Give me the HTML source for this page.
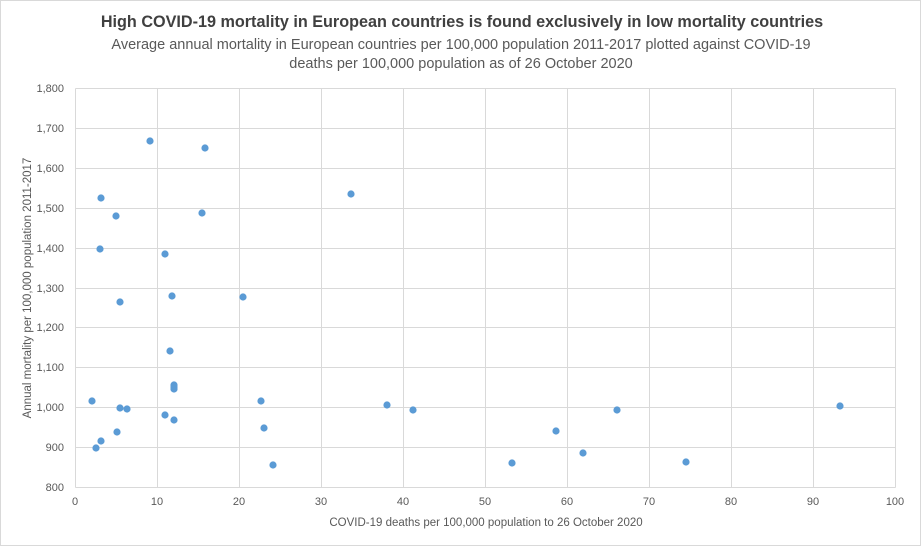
<!DOCTYPE html>
<html><head><meta charset="utf-8"><style>
body{margin:0;background:#fff;}
svg{display:block;font-family:"Liberation Sans",Arial,sans-serif;}
</style></head><body>
<svg width="921" height="546" viewBox="0 0 921 546">
<rect x="0.5" y="0.5" width="920" height="545" fill="#fff" stroke="#d9d9d9"/>
<text x="462" y="27" text-anchor="middle" font-size="16.2" font-weight="bold" fill="#404040">High COVID-19 mortality in European countries is found exclusively in low mortality countries</text>
<text x="461" y="49" text-anchor="middle" font-size="14.5" fill="#595959">Average annual mortality in European countries per 100,000 population 2011-2017 plotted against COVID-19</text>
<text x="461" y="68" text-anchor="middle" font-size="14.5" fill="#595959">deaths per 100,000 population  as of 26 October 2020</text>
<g stroke="#d9d9d9" stroke-width="1">
<line x1="75.5" y1="88.5" x2="75.5" y2="487.5"/>
<line x1="157.5" y1="88.5" x2="157.5" y2="487.5"/>
<line x1="239.5" y1="88.5" x2="239.5" y2="487.5"/>
<line x1="321.5" y1="88.5" x2="321.5" y2="487.5"/>
<line x1="403.5" y1="88.5" x2="403.5" y2="487.5"/>
<line x1="485.5" y1="88.5" x2="485.5" y2="487.5"/>
<line x1="567.5" y1="88.5" x2="567.5" y2="487.5"/>
<line x1="649.5" y1="88.5" x2="649.5" y2="487.5"/>
<line x1="731.5" y1="88.5" x2="731.5" y2="487.5"/>
<line x1="813.5" y1="88.5" x2="813.5" y2="487.5"/>
<line x1="895.5" y1="88.5" x2="895.5" y2="487.5"/>
<line x1="75.5" y1="88.5" x2="895.5" y2="88.5"/>
<line x1="75.5" y1="128.5" x2="895.5" y2="128.5"/>
<line x1="75.5" y1="168.5" x2="895.5" y2="168.5"/>
<line x1="75.5" y1="208.5" x2="895.5" y2="208.5"/>
<line x1="75.5" y1="248.5" x2="895.5" y2="248.5"/>
<line x1="75.5" y1="288.5" x2="895.5" y2="288.5"/>
<line x1="75.5" y1="327.5" x2="895.5" y2="327.5"/>
<line x1="75.5" y1="367.5" x2="895.5" y2="367.5"/>
<line x1="75.5" y1="407.5" x2="895.5" y2="407.5"/>
<line x1="75.5" y1="447.5" x2="895.5" y2="447.5"/>
<line x1="75.5" y1="487.5" x2="895.5" y2="487.5"/>
</g>
<g font-size="11" fill="#595959" text-anchor="end">
<text x="64" y="92">1,800</text><text x="64" y="132">1,700</text><text x="64" y="172">1,600</text>
<text x="64" y="212">1,500</text><text x="64" y="252">1,400</text><text x="64" y="292">1,300</text>
<text x="64" y="331">1,200</text><text x="64" y="371">1,100</text><text x="64" y="411">1,000</text>
<text x="64" y="451">900</text><text x="64" y="491">800</text>
</g>
<g font-size="11" fill="#595959" text-anchor="middle">
<text x="75" y="505">0</text><text x="157" y="505">10</text><text x="239" y="505">20</text>
<text x="321" y="505">30</text><text x="403" y="505">40</text><text x="485" y="505">50</text>
<text x="567" y="505">60</text><text x="649" y="505">70</text><text x="731" y="505">80</text>
<text x="813" y="505">90</text><text x="895" y="505">100</text>
</g>
<text x="486" y="526" text-anchor="middle" font-size="11.5" fill="#595959">COVID-19 deaths per  100,000 population to 26 October 2020</text>
<text transform="translate(31,288) rotate(-90)" text-anchor="middle" font-size="11.5" fill="#595959">Annual mortality per 100,000 population 2011-2017</text>
<g fill="#5b9bd5">
<circle cx="150" cy="141" r="3.6"/><circle cx="205" cy="148" r="3.6"/><circle cx="101" cy="198" r="3.6"/>
<circle cx="116" cy="216" r="3.6"/><circle cx="202" cy="213" r="3.6"/><circle cx="351" cy="194" r="3.6"/>
<circle cx="100" cy="249" r="3.6"/><circle cx="165" cy="254" r="3.6"/><circle cx="120" cy="302" r="3.6"/>
<circle cx="172" cy="296" r="3.6"/><circle cx="243" cy="297" r="3.6"/><circle cx="170" cy="351" r="3.6"/>
<circle cx="174" cy="385" r="3.6"/><circle cx="174" cy="389" r="3.6"/><circle cx="174" cy="387" r="3.6"/>
<circle cx="92" cy="401" r="3.6"/><circle cx="120" cy="408" r="3.6"/><circle cx="127" cy="409" r="3.6"/>
<circle cx="165" cy="415" r="3.6"/><circle cx="174" cy="420" r="3.6"/><circle cx="261" cy="401" r="3.6"/>
<circle cx="264" cy="428" r="3.6"/><circle cx="117" cy="432" r="3.6"/><circle cx="101" cy="441" r="3.6"/>
<circle cx="96" cy="448" r="3.6"/><circle cx="273" cy="465" r="3.6"/><circle cx="387" cy="405" r="3.6"/>
<circle cx="413" cy="410" r="3.6"/><circle cx="512" cy="463" r="3.6"/><circle cx="556" cy="431" r="3.6"/>
<circle cx="583" cy="453" r="3.6"/><circle cx="617" cy="410" r="3.6"/><circle cx="686" cy="462" r="3.6"/>
<circle cx="840" cy="406" r="3.6"/>
</g>
</svg>
</body></html>
